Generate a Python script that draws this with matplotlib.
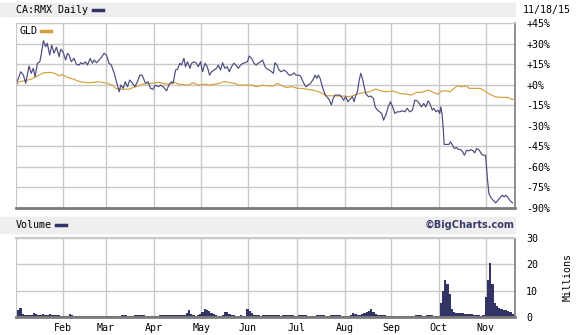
import matplotlib
matplotlib.use("Agg")
import matplotlib.pyplot as plt
from matplotlib.lines import Line2D
from matplotlib.patches import Rectangle
from matplotlib.ticker import FixedLocator, FuncFormatter

# x axis = trading-day index (0 = first trading day of Jan 2015, 222 = 11/18/15)
month_pos = [21, 40, 61.5, 82.5, 103, 125, 146.5, 167, 188, 209]
month_lbl = ["Feb", "Mar", "Apr", "May", "Jun", "Jul", "Aug", "Sep", "Oct", "Nov"]

rmx_day = [0, 2.1, 3.3, 4.3, 5.8, 6.8, 7.7, 8.5, 9.5, 10.6, 11.3, 12.2, 13.2, 13.9, 15.0,
           15.9, 16.9, 18.0, 19.2, 19.9, 20.9, 22.1, 22.9, 23.6, 24.6, 25.8, 26.9, 28.1,
           28.8, 29.9, 30.9, 31.8, 33.0, 34.0, 34.8, 35.8, 37.0, 38.2, 39.2, 40.2, 41.4,
           42.4, 43.7, 44.9, 45.9, 46.6, 47.7, 48.6, 49.6, 50.6, 51.8, 52.9, 54.0, 55.1,
           56.1, 57.6, 58.8, 59.8, 61.0, 62.0, 63.3, 64.3, 65.5, 67.0, 68.0, 69.2, 69.9,
           71.0, 71.8, 72.9, 73.6, 74.7, 75.4, 76.3, 77.4, 78.1, 79.2, 80.3, 81.1, 82.1,
           83.0, 84.1, 85.1, 86.1, 87.0, 88.1, 89.2, 90.0, 91.0, 91.9, 92.9, 94.0, 94.9,
           95.9, 96.9, 97.9, 98.9, 99.9, 101.0, 101.9, 102.9, 103.8, 104.8, 105.9, 106.8,
           107.8, 108.8, 109.7, 110.8, 111.4, 112.6, 113.7, 114.5, 115.2, 116.1, 117.0,
           118.0, 119.2, 120.3, 121.5, 122.6, 123.7, 124.4, 125.5, 126.6, 127.7, 128.9,
           129.9, 131.1, 132.2, 133.1, 133.8, 134.5, 135.3, 136.3, 137.3, 138.2, 139.3,
           140.3, 141.1, 142.0, 143.0, 144.0, 144.8, 145.7, 146.7, 147.7, 148.6, 149.7,
           150.4, 151.2, 151.9, 152.7, 153.4, 154.1, 154.9, 155.6, 156.8, 157.8, 159.0,
           159.8, 160.8, 161.8, 162.7, 163.5, 164.5, 165.6, 166.6, 167.8, 168.5, 169.7,
           170.7, 171.9, 173.0, 174.0, 175.2, 176.4, 177.4, 178.5, 179.4, 180.4, 181.4,
           182.3, 183.4, 184.1, 185.2, 185.9, 186.8, 187.8, 188.5, 189.0, 189.6, 190.0,
           190.5, 191.5, 192.6, 193.3, 194.2, 195.0, 196.0, 196.8, 197.8, 198.7, 199.5,
           200.5, 201.5, 202.4, 203.4, 204.1, 204.9, 206.1, 207.1, 207.9, 208.9, 209.3,
           209.8, 210.4, 211.3, 212.3, 213.4, 214.4, 215.3, 216.3, 217.2, 217.9, 218.7,
           219.7, 220.9]
rmx_pct = [0, 9.4, 7.0, 1.0, 13.6, 8.3, 11.9, 5.8, 15.6, 16.7, 22.9, 32.1, 27.7, 30.2, 21.6,
           28.9, 22.9, 27.3, 20.4, 25.8, 24.0, 18.0, 22.9, 21.6, 16.7, 19.2, 14.8, 14.3,
           16.0, 15.1, 16.7, 14.3, 19.2, 15.6, 18.0, 16.0, 18.0, 20.4, 22.9, 21.6, 15.6,
           14.3, 8.3, 1.0, -5.2, -0.3, -2.7, 2.1, -1.5, 3.4, 1.0, -1.5, 2.1, 7.0,
           7.0, 1.0, 2.1, -2.7, -3.4, -0.3, -1.5, -0.3, -1.5, -4.5, -0.3, 2.1, 1.0,
           10.7, 11.2, 15.6, 14.3, 19.2, 13.1, 16.7, 11.9, 15.6, 16.7, 15.6, 13.1, 16.7,
           9.4, 15.6, 13.1, 7.0, 9.4, 10.7, 11.9, 14.3, 10.7, 16.0, 11.9, 13.1, 9.4,
           13.1, 15.6, 14.3, 11.9, 14.3, 15.6, 16.0, 16.7, 20.9, 19.2, 15.6, 14.3,
           15.6, 16.7, 18.0, 13.1, 11.9, 10.7, 9.4, 8.3, 16.0, 14.3, 10.7,
           9.4, 10.7, 9.4, 7.0, 7.0, 8.7, 7.0, 7.0, 6.3, 2.1, -1.5,
           -0.3, 1.0, 3.9, 7.0, 4.6, 7.0, 4.6, -1.5, -6.4, -8.8, -10.7,
           -14.9, -10.0, -7.6, -7.6, -7.6, -8.8, -11.3, -8.8, -12.5, -10.7, -8.8,
           -12.5, -7.6, -5.2, 3.4, 8.3, 4.6, -1.5, -6.4, -8.8, -8.3, -10.0,
           -16.2, -18.6, -19.8, -21.0, -25.9, -22.2, -16.2, -12.5, -17.3, -21.0, -19.8,
           -19.8, -19.1, -19.8, -17.3, -19.8, -18.6, -11.3, -11.8, -13.7, -16.2, -13.7,
           -16.2, -11.8, -13.7, -18.6, -17.3, -19.8, -18.6, -21.0, -16.2, -22.2, -30.8,
           -43.6, -43.6, -43.6, -41.7, -44.2, -46.6, -45.8, -47.3, -47.3, -49.1, -51.5,
           -47.8, -48.3, -47.3, -48.3, -49.8, -46.6, -47.8, -50.7, -51.5, -51.5, -59.9,
           -69.7, -79.5, -82.4, -84.4, -86.3, -84.4, -82.4, -80.7, -81.9, -80.7, -81.9,
           -84.4, -86.3]

gld_day = [0.3, 1.3, 3.6, 6.5, 9.5, 11.0, 12.5, 15.1, 17.2, 19.5, 20.4, 22.9, 25.8, 27.3,
           28.8, 31.8, 34.7, 37.0, 40.7, 42.9, 44.4, 45.9, 48.1, 50.3, 51.8, 53.3, 54.8,
           56.1, 57.3, 60.3, 63.3, 65.5, 67.7, 70.7, 72.2, 76.6, 78.8, 81.1, 84.1, 86.3,
           88.5, 90.7, 92.2, 93.7, 95.2, 97.4, 98.9, 101.9, 104.8, 107.0, 108.6, 110.0,
           112.6, 114.8, 116.3, 117.7, 120.0, 122.9, 125.2, 127.4, 129.6, 131.8, 134.8,
           136.3, 137.8, 140.8, 143.7, 146.0, 148.2, 150.4, 152.7, 154.9, 157.1, 160.0,
           162.3, 164.5, 167.8, 170.7, 173.7, 175.9, 178.2, 180.4, 183.4, 185.6, 187.8,
           189.3, 191.5, 193.0, 194.5, 196.3, 198.2, 200.4, 201.6, 204.1, 206.4, 207.9,
           209.4, 210.8, 213.1, 216.0, 219.0, 220.2, 221.2]
gld_pct = [0, 2.0, 2.8, 3.9, 6.3, 7.7, 8.7, 9.0, 8.3, 6.3, 7.5, 5.3, 3.9, 2.8,
           2.1, 1.4, 1.7, 2.1, 0.9, -0.3, -2.7, -3.2, -3.4, -3.2, -2.3, -1.5, -0.8,
           0.4, 0.4, 1.0, 1.7, 1.0, 0.2, 1.7, 0.4, -0.3, 1.4, -0.3, 0.4, -0.3,
           0.4, 1.0, 2.1, 2.1, 1.4, 1.0, -0.3, -0.3, -0.3, -1.5, -0.8, -0.5,
           -1.0, -0.8, 1.0, -0.3, -2.0, -1.5, -2.7, -2.7, -3.4, -3.9, -5.2,
           -6.4, -8.1, -8.1, -8.3, -8.3, -8.8, -7.8, -6.4, -5.9, -5.2, -3.2,
           -4.5, -5.2, -4.7, -6.4, -6.9, -7.6, -5.6, -5.6, -3.9, -5.6, -6.9,
           -4.7, -4.5, -5.2, -3.4, -0.8, -1.5, -1.0, -2.7, -2.7, -2.7, -3.9,
           -5.6, -6.9, -8.8, -9.3, -9.3, -10.5, -10.7]

# daily volume, millions
volume = [1.5, 2.5, 3.4, 1.2, 0.8, 0.6, 0.7, 0.8, 1.4, 1.0, 0.7, 0.8, 1.3, 0.9, 0.8, 1.0,
          0.7, 0.6, 0.6, 0.6, 0.5,
          0.5, 0.4, 0.5, 1.3, 0.7, 0.3, 0.2, 0.2, 0.2, 0.2, 0.2, 0.2, 0.2, 0.2, 0.2, 0.2,
          0.2, 0.3, 0.2,
          0.2, 0.5, 0.4, 0.3, 0.3, 0.3, 0.5, 0.8, 0.8, 0.8, 0.5, 0.4, 0.4, 0.8, 0.9, 0.6,
          0.9, 0.8, 0.4, 0.3, 0.3, 0.2,
          0.3, 0.4, 0.6, 0.6, 0.6, 0.7, 0.6, 0.9, 0.8, 0.6, 0.6, 0.9, 0.7, 0.8, 1.4, 2.8,
          1.2, 0.6, 0.5, 0.6, 1.0,
          2.0, 3.0, 2.6, 2.2, 1.5, 1.0, 0.6, 0.5, 0.5, 0.8, 2.0, 1.8, 1.0, 0.7, 0.6, 0.5,
          0.3, 0.8, 0.5, 0.4,
          3.2, 2.4, 1.6, 0.9, 0.6, 0.7, 0.5, 0.8, 0.9, 0.7, 0.6, 0.7, 0.6, 0.7, 0.8, 0.5,
          0.6, 0.7, 0.8, 0.9, 0.6, 0.5,
          0.5, 0.6, 0.7, 0.7, 0.6, 0.4, 0.3, 0.4, 0.5, 0.6, 0.7, 0.8, 0.6, 0.5, 0.4, 0.6,
          0.7, 0.8, 0.7, 0.6, 0.5, 0.4,
          0.3, 0.4, 0.9, 1.6, 1.0, 0.8, 0.8, 1.2, 1.5, 1.9, 2.2, 3.2, 2.0, 1.2, 0.8, 0.6,
          0.7, 0.6, 0.5, 0.4, 0.3,
          0.3, 0.3, 0.2, 0.3, 0.4, 0.5, 0.4, 0.3, 0.3, 0.4, 0.8, 0.9, 0.6, 0.5, 0.4, 0.6,
          0.9, 0.7, 0.5, 0.4, 0.5,
          5.5, 10.0, 14.0, 12.6, 8.9, 3.0, 1.8, 1.6, 1.5, 1.7, 1.4, 1.3, 1.2, 1.1, 1.0,
          0.7, 0.6, 0.6, 0.5, 0.9,
          7.6, 14.0, 20.5, 12.6, 5.5, 4.2, 3.6, 3.0, 2.8, 2.6, 2.2, 1.8, 1.0, 0.8]

pct_ticks = [45, 30, 15, 0, -15, -30, -45, -60, -75, -90]
vol_ticks = [0, 10, 20, 30]

W, H = 579, 335
NAVY = "#4b4b7e"
GOLD = "#d6a03c"
GRID = "#c8c8c8"
DARK = "#7c7c7c"
MONO = "DejaVu Sans Mono"
FS = 7.2


def fx(x):
    return x / W


def fy(y):
    return 1 - y / H


fig = plt.figure(figsize=(W / 100, H / 100), dpi=100)

# header bands
for y0, y1 in [(3, 16), (217, 233)]:
    fig.patches.append(Rectangle((0, fy(y1)), fx(515), (y1 - y0) / H,
                                 transform=fig.transFigure, color="#eeeeee", zorder=0))

ax = fig.add_axes([fx(16), fy(208), fx(499), (208 - 23) / H])
vax = fig.add_axes([fx(16), fy(317), fx(499), (317 - 238) / H])

for a in (ax, vax):
    a.set_xlim(0, 222)
    a.xaxis.set_major_locator(FixedLocator(month_pos))
    a.grid(True, color=GRID, lw=1)
    a.set_axisbelow(True)
    a.yaxis.tick_right()
    a.tick_params(length=0, pad=8, labelsize=FS, colors="#000000")
    a.spines["top"].set_color(GRID)
    a.spines["left"].set_color(GRID)
    a.spines["right"].set_color(DARK)
    a.spines["bottom"].set_color(DARK)
    a.spines["bottom"].set_linewidth(2)
    a.spines["right"].set_linewidth(1.2)

ax.plot(gld_day, gld_pct, color=GOLD, lw=0.85)
ax.plot(rmx_day, rmx_pct, color=NAVY, lw=0.85)
ax.set_ylim(-90, 45)
ax.set_yticks(pct_ticks)
ax.yaxis.set_major_formatter(FuncFormatter(lambda v, p: "%+d%%" % v if v != 0 else "+0%"))
ax.set_xticklabels([])
for lbl in ax.get_yticklabels():
    lbl.set_family(MONO)

vax.bar(range(len(volume)), volume, width=1.0, color="#333366", linewidth=0)
vax.set_ylim(0, 30)
vax.set_yticks(vol_ticks)
vax.set_xticklabels(month_lbl, family=MONO, fontsize=FS)
vax.tick_params(axis="x", pad=4)
vax.spines["top"].set_linewidth(1.5)
for lbl in vax.get_yticklabels():
    lbl.set_family(MONO)

# header texts and swatches
fig.text(fx(16), fy(10), "CA:RMX Daily", family=MONO, fontsize=FS, va="center")
fig.add_artist(Line2D([fx(93), fx(103)], [fy(10), fy(10)], color="#333366", lw=2.5))
fig.text(fx(523), fy(10), "11/18/15", family=MONO, fontsize=FS, va="center")
fig.text(fx(19), fy(31), "GLD", family=MONO, fontsize=FS, va="center")
fig.add_artist(Line2D([fx(41), fx(51)], [fy(30.5), fy(30.5)], color=GOLD, lw=2.5))
fig.text(fx(16), fy(225), "Volume", family=MONO, fontsize=FS, va="center")
fig.add_artist(Line2D([fx(56), fx(66)], [fy(225), fy(225)], color="#333366", lw=2.5))
fig.text(fx(515), fy(225), "\u00a9BigCharts.com", fontsize=7, fontweight="bold",
         color="#3a3a6a", ha="right", va="center")
fig.text(fx(568), fy(277), "Millions", family=MONO, fontsize=FS, rotation=90,
         ha="center", va="center")

fig.savefig("out.png", dpi=100)
